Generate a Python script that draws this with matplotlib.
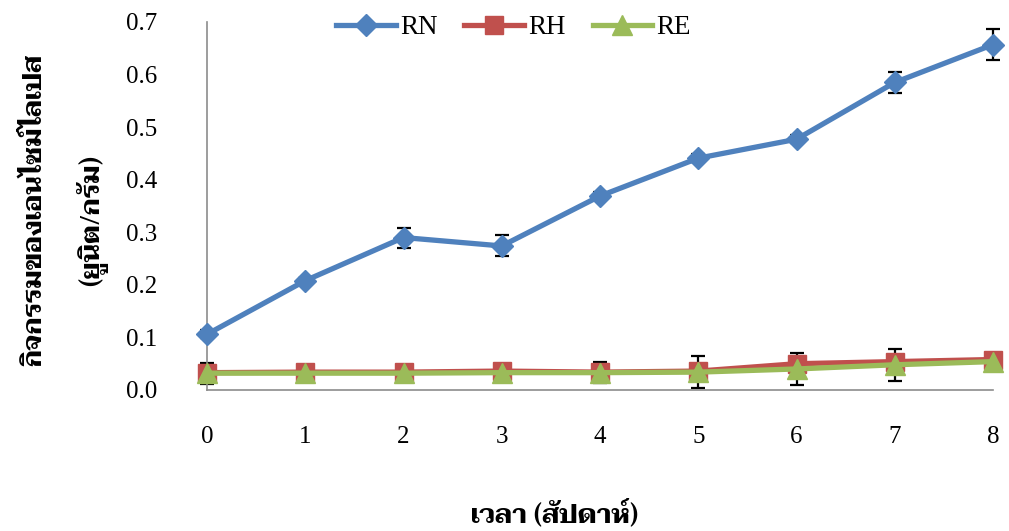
import matplotlib
matplotlib.use("Agg")
import matplotlib.pyplot as plt
from matplotlib import font_manager as fm
from fontTools.ttLib import TTFont

weeks = [0, 1, 2, 3, 4, 5, 6, 7, 8]
rn = [0.106, 0.208, 0.290, 0.274, 0.369, 0.441, 0.477, 0.585, 0.657]
rn_err = [0.008, 0.005, 0.019, 0.020, 0.008, 0.007, 0.008, 0.020, 0.030]
rh = [0.033, 0.034, 0.034, 0.036, 0.034, 0.036, 0.050, 0.054, 0.058]
rh_err = [0.005, 0.004, 0.004, 0.004, 0.005, 0.005, 0.005, 0.005, 0.005]
re = [0.032, 0.032, 0.032, 0.033, 0.033, 0.034, 0.040, 0.048, 0.054]
re_err = [0.020, 0.004, 0.004, 0.004, 0.020, 0.031, 0.030, 0.030, 0.004]
yticks = [0.0, 0.1, 0.2, 0.3, 0.4, 0.5, 0.6, 0.7]

# fonts with Thai glyphs, prefer a looped serif one like Angsana
thai_fonts = set()
for f in fm.fontManager.ttflist:
    try:
        cm = TTFont(f.fname, fontNumber=0, lazy=True).getBestCmap()
        if cm and 0x0E01 in cm:
            thai_fonts.add(f.name)
    except Exception:
        pass
pref = ["Taviraj", "Trirong", "Noto Serif Thai", "Sarabun", "Pridi", "Noto Sans Thai Looped"]
THAI = next((p for p in pref if p in thai_fonts), sorted(thai_fonts)[0] if thai_fonts else "DejaVu Sans")

SERIF = "Liberation Serif"
fig = plt.figure(figsize=(10.09, 5.31), dpi=100)
ax = fig.add_axes([207/1009, 1-390/531, 786/1009, 368/531])

series = [("RN", rn, rn_err, "#4F81BD", "D", 11),
          ("RH", rh, rh_err, "#C0504D", "s", 13),
          ("RE", re, re_err, "#9BBB59", "^", 14)]
for name, vals, err, col, mk, ms in series:
    ax.errorbar(weeks, vals, yerr=err, fmt="none", ecolor="black",
                elinewidth=1.6, capsize=5, capthick=1.6, zorder=2, clip_on=False)
    ax.plot(weeks, vals, color=col, lw=3.8, marker=mk, ms=ms,
            markeredgecolor=col, label=name, zorder=3, clip_on=False)

ax.set_xlim(0, 8)
ax.set_ylim(0, 0.7)
ax.set_xticks(weeks)
ax.set_xticklabels([str(w) for w in weeks])
ax.set_yticks(yticks)
ax.set_yticklabels([f"{v:.1f}" for v in yticks])
for lab in ax.get_xticklabels() + ax.get_yticklabels():
    lab.set_fontfamily(SERIF)
    lab.set_fontsize(18)
ax.tick_params(axis="y", length=0, pad=36)
ax.tick_params(axis="x", length=0, pad=26)
for s in ["top", "right"]:
    ax.spines[s].set_visible(False)
for s in ["left", "bottom"]:
    ax.spines[s].set_color("#8c8c8c")
    ax.spines[s].set_linewidth(1.2)

ax.legend(loc="center", bbox_to_anchor=(0.39, 0.984), ncol=3, frameon=False,
          prop={"family": SERIF, "size": 19.5}, handlelength=2.2,
          handletextpad=0.15, columnspacing=1.0, borderpad=0)

tfam = [THAI, "DejaVu Sans"]
fig.text(35/1009, 1-210/531, "กิจกรรมของเอนไซม์ไลเปส", rotation=90, ha="center", va="center",
         fontsize=19, fontweight="bold", family=tfam)
fig.text(92/1009, 1-220/531, "(ยูนิต/กรัม)", rotation=90, ha="center", va="center",
         fontsize=19, fontweight="bold", family=tfam)
fig.text(555/1009, 1-514/531, "เวลา (สัปดาห์)", ha="center", va="center",
         fontsize=19, fontweight="bold", family=tfam)

fig.savefig("out.png", dpi=100)
